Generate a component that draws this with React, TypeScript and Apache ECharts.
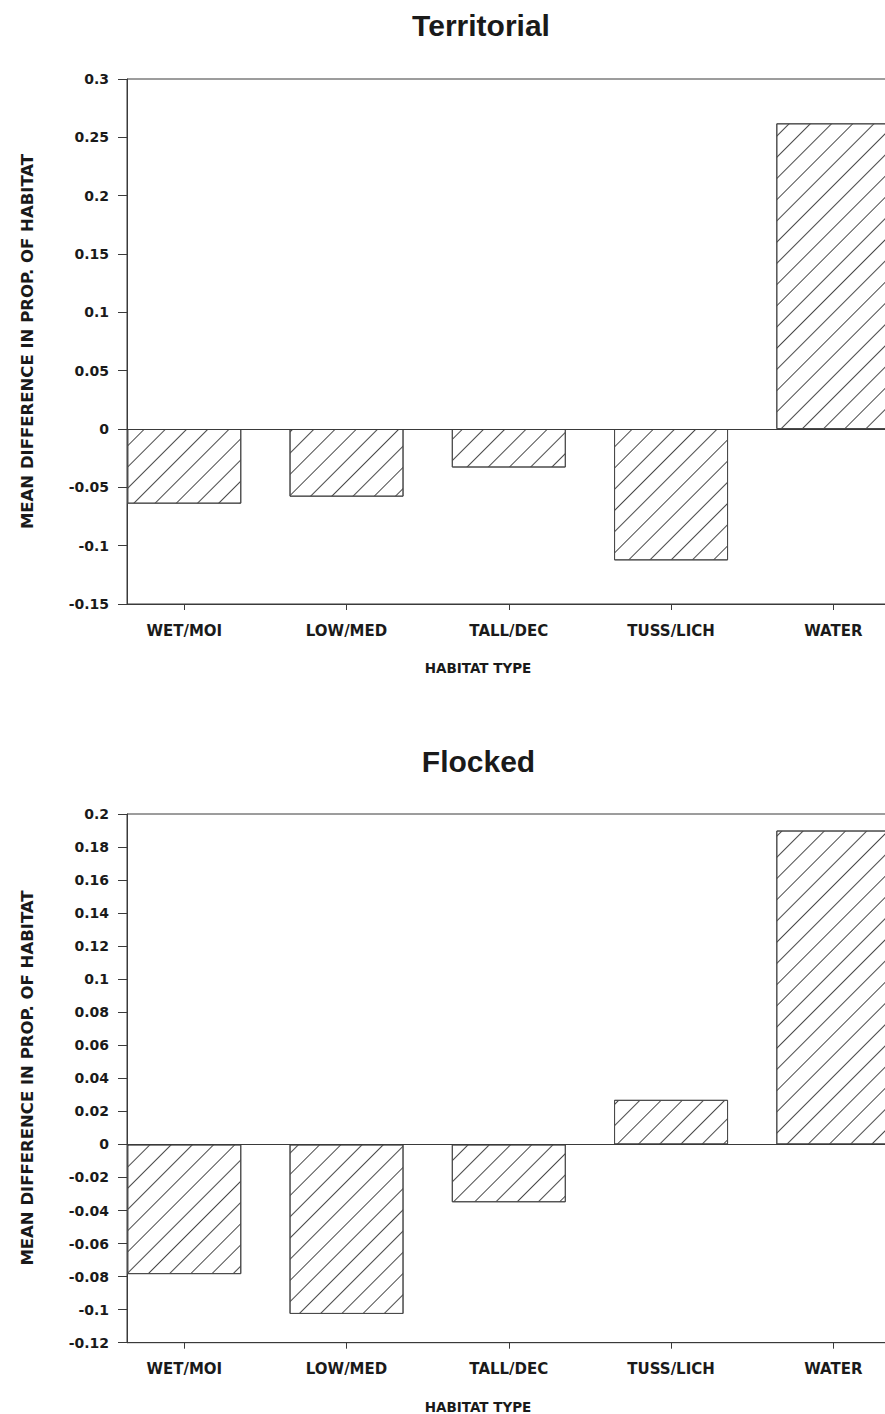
import React, { useEffect, useRef } from "react";
import * as echarts from "echarts";

const categories = ["WET/MOI", "LOW/MED", "TALL/DEC", "TUSS/LICH", "WATER"];
const territorialValues = [-0.064, -0.058, -0.033, -0.1126, 0.262];
const flockedValues = [-0.0785, -0.1026, -0.035, 0.027, 0.19];
const territorialAxis = { min: -0.15, max: 0.3, interval: 0.05 };
const flockedAxis = { min: -0.12, max: 0.2, interval: 0.02 };
const titles = ["Territorial", "Flocked"];
const xAxisName = "HABITAT TYPE";
const yAxisName = "MEAN DIFFERENCE IN PROP. OF HABITAT";

const INK = "#1a1a1a";
const LINE = "#3a3a3a";
const TICK_FONT = "DejaVu Sans";

function fmt(v: number) {
  return String(parseFloat(v.toFixed(3)));
}

export default function App() {
  const ref = useRef<HTMLDivElement>(null);
  useEffect(() => {
    if (!ref.current) return;
    const chart = echarts.init(ref.current, null, { renderer: "svg" });
    const catIdx = categories.map((_, i) => i);
    const grids = [
      { left: 127, top: 79, width: 763.6, height: 525 },
      { left: 127, top: 814, width: 763.6, height: 528.7 },
    ];
    const yAxes = [territorialAxis, flockedAxis];
    const values = [territorialValues, flockedValues];
    const decal = {
      symbol: "rect",
      symbolSize: 1,
      color: "#4a4a4a",
      dashArrayX: [1, 0],
      dashArrayY: [1, 14],
      rotation: -Math.PI / 4,
    };
    const option: any = {
      animation: false,
      backgroundColor: "#ffffff",
      grid: grids.map((g) => ({
        ...g,
        show: true,
        borderColor: LINE,
        borderWidth: 1,
        backgroundColor: "transparent",
      })),
      xAxis: grids.map((_, k) => ({
        type: "value",
        gridIndex: k,
        min: -0.353,
        max: 4.353,
        splitLine: { show: false },
        axisLine: { show: true, onZero: false, lineStyle: { color: LINE, width: 1 } },
        axisTick: {
          show: true,
          customValues: catIdx,
          length: 6,
          inside: false,
          lineStyle: { color: LINE },
        },
        axisLabel: {
          customValues: catIdx,
          margin: 19,
          fontFamily: TICK_FONT,
          fontWeight: "bold",
          fontSize: 15,
          color: INK,
          formatter: (v: number) => categories[Math.round(v)] ?? "",
        },
      })),
      yAxis: yAxes.map((a, k) => ({
        type: "value",
        gridIndex: k,
        min: a.min,
        max: a.max,
        interval: a.interval,
        splitLine: { show: false },
        axisLine: { show: true, onZero: false, lineStyle: { color: LINE, width: 1 } },
        axisTick: { show: true, length: 9, inside: false, lineStyle: { color: LINE } },
        axisLabel: {
          margin: 18,
          fontFamily: TICK_FONT,
          fontWeight: "bold",
          fontSize: 14,
          color: INK,
          formatter: (v: number) => fmt(v),
        },
      })),
      series: values.map((vals, k) => ({
        type: "bar",
        xAxisIndex: k,
        yAxisIndex: k,
        barWidth: 114,
        data: vals.map((v, i) => [i, v]),
        itemStyle: {
          color: "#ffffff",
          borderColor: "#4a4a4a",
          borderWidth: 1,
          decal,
        },
        markLine: {
          silent: true,
          symbol: "none",
          label: { show: false },
          lineStyle: { color: LINE, type: "solid", width: 1 },
          data: [{ yAxis: 0 }],
        },
      })),
      graphic: [
        {
          type: "text",
          x: 481,
          y: 25,
          style: {
            text: titles[0],
            fontFamily: "Liberation Sans",
            fontWeight: "bold",
            fontSize: 30,
            fill: INK,
            textAlign: "center",
            textVerticalAlign: "middle",
          },
        },
        {
          type: "text",
          x: 478.5,
          y: 761,
          style: {
            text: titles[1],
            fontFamily: "Liberation Sans",
            fontWeight: "bold",
            fontSize: 30,
            fill: INK,
            textAlign: "center",
            textVerticalAlign: "middle",
          },
        },
        ...[668, 1407].map((y) => ({
          type: "text",
          x: 478,
          y,
          style: {
            text: xAxisName,
            fontFamily: TICK_FONT,
            fontWeight: "bold",
            fontSize: 13.5,
            fill: INK,
            textAlign: "center",
            textVerticalAlign: "middle",
          },
        })),
        ...[341.5, 1078].map((y) => ({
          type: "text",
          x: 27,
          y,
          rotation: Math.PI / 2,
          style: {
            text: yAxisName,
            fontFamily: TICK_FONT,
            fontWeight: "bold",
            fontSize: 16.5,
            fill: INK,
            textAlign: "center",
            textVerticalAlign: "middle",
          },
        })),
      ],
    };
    chart.setOption(option);
    return () => chart.dispose();
  }, []);
  return (
    <div
      style={{
        position: "absolute",
        left: 0,
        top: 0,
        width: 885,
        height: 1414,
        overflow: "hidden",
        background: "#fff",
      }}
    >
      <div ref={ref} style={{ width: 920, height: 1414 }} />
    </div>
  );
}
